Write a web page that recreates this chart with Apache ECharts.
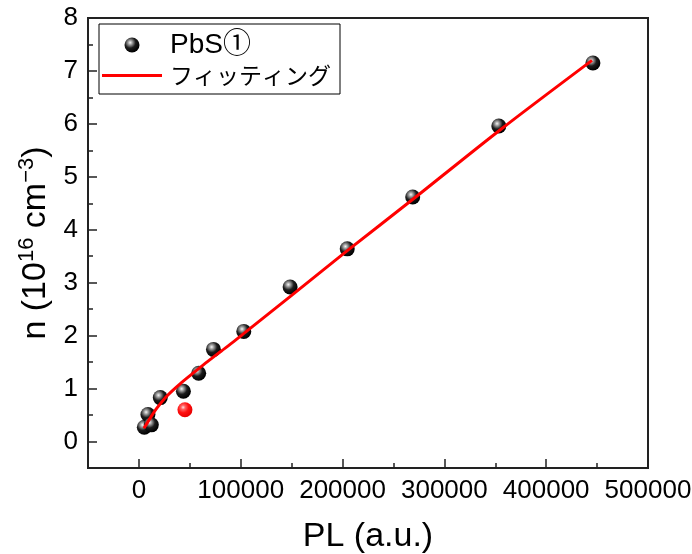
<!DOCTYPE html>
<html>
<head>
<meta charset="utf-8">
<script src="https://cdn.jsdelivr.net/npm/echarts@6/dist/echarts.min.js"></script>
<style>
  html, body { margin: 0; padding: 0; background: #fff; }
  #chart { width: 692px; height: 554px; }
</style>
</head>
<body>
<div id="chart"></div>
<script>
// Measured PL intensity and carrier density (10^16 cm^-3)
const plValues = [5300, 8850, 12200, 21000, 43700, 58700, 73200, 103000, 148500, 204600, 268900, 353500, 445900];
const nValues  = [0.27, 0.51, 0.315, 0.83, 0.95, 1.29, 1.74, 2.08, 2.92, 3.64, 4.62, 5.96, 7.15];

// Point left out of the fit
const excludedPL = [45200];
const excludedN  = [0.60];

// Fitted curve, sampled
const fitPL = [5000, 12000, 18000, 28000, 41000, 55000, 68000, 81000, 94000, 105000, 150000, 205000, 270000, 355000, 445000];
const fitN  = [0.25, 0.47, 0.64, 0.87, 1.10, 1.32, 1.52, 1.71, 1.90, 2.07, 2.76, 3.61, 4.59, 5.89, 7.20];

// Axis ticks
const xTickValues = [0, 100000, 200000, 300000, 400000, 500000];
const xMinorTickValues = [50000, 150000, 250000, 350000, 450000];
const yTickValues = [0, 1, 2, 3, 4, 5, 6, 7, 8];
const yMinorTickValues = [0.5, 1.5, 2.5, 3.5, 4.5, 5.5, 6.5, 7.5];

const seriesNames = ['PbS①', 'フィッティング'];

const zip = (xs, ys) => xs.map((x, i) => [x, ys[i]]);

const latin = "'Liberation Sans', Arial, 'Noto Sans CJK JP', sans-serif";
const axisColor = '#222';

const sphere = (light, mid, dark, edge) => ({
  type: 'radial', x: 0.38, y: 0.34, r: 0.66,
  colorStops: [
    { offset: 0, color: light },
    { offset: 0.22, color: mid },
    { offset: 0.55, color: dark },
    { offset: 1, color: edge }
  ]
});

const tickLabel = {
  margin: 10, fontSize: 26, fontFamily: latin, color: '#000',
  showMinLabel: true, showMaxLabel: true, hideOverlap: false,
  formatter: v => String(v)
};

const chart = echarts.init(document.getElementById('chart'), null, { renderer: 'canvas' });

chart.setOption({
  animation: false,
  backgroundColor: '#fff',
  textStyle: { fontFamily: latin, color: '#000' },
  grid: {
    left: 88, right: 44, top: 18, bottom: 86,
    containLabel: false, outerBoundsMode: 'none',
    show: true, borderColor: axisColor, borderWidth: 2, backgroundColor: 'transparent'
  },
  legend: {
    orient: 'vertical',
    left: 99, top: 24,
    padding: [7, 9, 7, 3],
    itemGap: 5,
    itemWidth: 60,
    itemHeight: 15,
    symbolKeepAspect: true,
    borderColor: '#000', borderWidth: 1, backgroundColor: '#fff',
    data: [
      { name: seriesNames[0], icon: 'circle' },
      { name: seriesNames[1], icon: 'path://M0,0H60V3H0Z' }
    ],
    formatter: name => name === seriesNames[1] ? '{k|' + name + '}' : '{p|' + name + '}',
    textStyle: {
      color: '#000', padding: [0, 0, 0, 3],
      rich: {
        p: { fontSize: 28, fontFamily: latin, color: '#000' },
        k: { fontSize: 23, fontFamily: "'Noto Sans CJK JP', sans-serif", color: '#000' }
      }
    }
  },
  xAxis: [{
    type: 'value', min: -50000, max: 500000,
    name: 'PL (a.u.)', nameLocation: 'middle', nameGap: 52,
    nameTextStyle: { fontSize: 34, fontFamily: latin, color: '#000' },
    axisLine: { show: true, onZero: false, lineStyle: { color: axisColor, width: 2 } },
    axisTick: { show: true, inside: true, length: 9, customValues: xTickValues, lineStyle: { color: axisColor, width: 1.5 } },
    axisLabel: Object.assign({ customValues: xTickValues }, tickLabel),
    splitLine: { show: false }
  }, {
    type: 'value', min: -50000, max: 500000, position: 'bottom', offset: 0,
    axisLine: { show: false, onZero: false },
    axisTick: { show: true, inside: true, length: 5, customValues: xMinorTickValues, lineStyle: { color: axisColor, width: 1.5 } },
    axisLabel: { show: false },
    splitLine: { show: false }
  }],
  yAxis: [{
    type: 'value', min: -0.5, max: 8,
    name: '{t|n (10}{s|16}{t| cm}{s|−3}{t|)}',
    nameLocation: 'middle', nameRotate: 90, nameGap: 32,
    nameTextStyle: {
      rich: {
        t: { fontSize: 34, lineHeight: 40, fontFamily: latin, color: '#000' },
        s: { fontSize: 22, lineHeight: 40, verticalAlign: 'top', fontFamily: latin, color: '#000' }
      }
    },
    axisLine: { show: true, onZero: false, lineStyle: { color: axisColor, width: 2 } },
    axisTick: { show: true, inside: true, length: 9, customValues: yTickValues, lineStyle: { color: axisColor, width: 1.5 } },
    axisLabel: Object.assign({ customValues: yTickValues }, tickLabel),
    splitLine: { show: false }
  }, {
    type: 'value', min: -0.5, max: 8, position: 'left', offset: 0,
    axisLine: { show: false, onZero: false },
    axisTick: { show: true, inside: true, length: 5, customValues: yMinorTickValues, lineStyle: { color: axisColor, width: 1.5 } },
    axisLabel: { show: false },
    splitLine: { show: false }
  }],
  series: [{
    name: seriesNames[0],
    type: 'scatter',
    symbol: 'circle',
    symbolSize: 15,
    z: 2,
    itemStyle: { color: sphere('#f6f6f6', '#9c9c9c', '#1c1c1c', '#000'), opacity: 1 },
    data: zip(plValues, nValues)
  }, {
    name: 'excluded',
    type: 'scatter',
    symbol: 'circle',
    symbolSize: 15,
    z: 2,
    itemStyle: { color: sphere('#ffe0e0', '#ff6060', '#ff1010', '#e80000'), opacity: 1 },
    data: zip(excludedPL, excludedN)
  }, {
    name: seriesNames[1],
    type: 'line',
    symbol: 'none',
    smooth: 0.3,
    z: 3,
    lineStyle: { color: '#ff0000', width: 3 },
    itemStyle: { color: '#ff0000' },
    data: zip(fitPL, fitN)
  }]
});
</script>
</body>
</html>
